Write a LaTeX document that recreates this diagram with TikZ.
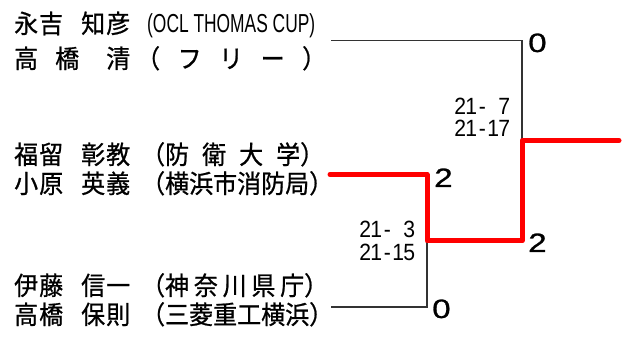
\documentclass[tikz,border=0pt]{standalone}
\usepackage{fontspec}
\usepackage{graphicx}
\setmainfont{Liberation Sans}
\newfontfamily\jp[FakeStretch=0.94,FakeBold=0.8]{Noto Sans CJK JP}
\newfontfamily\scorefont[FakeStretch=0.9]{Liberation Sans}
\newfontfamily\bigfont[FakeStretch=1.25,FakeBold=1]{Liberation Sans}
\newcommand\mc[1]{\makebox[11pt]{#1}}
\tikzset{
  nameline/.style={anchor=base west, inner sep=0pt, font=\jp\fontsize{25.5}{25.5}\selectfont},
  score/.style={anchor=base east, inner sep=0pt, font=\scorefont\fontsize{23.5}{23.5}\selectfont},
  result/.style={anchor=base west, inner sep=0pt, font=\bigfont\fontsize{26.5}{26.5}\selectfont},
  thinline/.style={draw=black!80, line width=1.3pt},
  winline/.style={draw=red, line width=5pt, line cap=round, line join=round}
}
\begin{document}
\begin{tikzpicture}[x=1pt,y=-1pt]
\useasboundingbox (0,0) rectangle (623,344);
% names
\node[nameline] (n1) at (14,33) {\makebox[49pt][s]{永\hss 吉}\hspace{18pt}\makebox[49pt][s]{知\hss 彦}\hspace{17pt}{\rmfamily\fontsize{26}{26}\selectfont\resizebox{168pt}{\height}{(OCL THOMAS CUP)}}};
\node[nameline] (n2) at (14,68) {\makebox[65pt][s]{高\hss 橋}\hspace{27pt}清\hspace{22pt}\makebox[158pt][s]{\kern-16pt（\hss フ\hss リ\hss ー\hss ）\kern-16pt}};
\node[nameline] (n3) at (14,164) {\makebox[49pt][s]{福\hss 留}\hspace{18pt}\makebox[49pt][s]{彰\hss 教}\hspace{27pt}\makebox[151pt][s]{\kern-16pt（防\hss 衛\hss 大\hss 学）\kern-16pt}};
\node[nameline] (n4) at (14,193) {\makebox[49pt][s]{小\hss 原}\hspace{18pt}\makebox[49pt][s]{英\hss 義}\hspace{27pt}\makebox[160pt][s]{\kern-16pt（横\hss 浜\hss 市\hss 消\hss 防\hss 局）\kern-16pt}};
\node[nameline] (n5) at (14,295) {\makebox[49pt][s]{伊\hss 藤}\hspace{18pt}\makebox[49pt][s]{信\hss 一}\hspace{27pt}\makebox[155pt][s]{\kern-16pt（神\hss 奈\hss 川\hss 県\hss 庁）\kern-16pt}};
\node[nameline] (n6) at (14,324) {\makebox[49pt][s]{高\hss 橋}\hspace{18pt}\makebox[49pt][s]{保\hss 則}\hspace{27pt}\makebox[160pt][s]{\kern-16pt（三\hss 菱\hss 重\hss 工\hss 横\hss 浜）\kern-16pt}};
% bracket points
\coordinate (a1) at (331,40.7);
\coordinate (a2) at (522,40.7);
\coordinate (m) at (522,140.5);
\coordinate (w) at (619,140.5);
\coordinate (b1) at (330,174.5);
\coordinate (b2) at (427,174.5);
\coordinate (b3) at (427,241);
\coordinate (b4) at (522,241);
\coordinate (c1) at (331,307);
\coordinate (c2) at (427,307);
% lines
\draw[thinline] (a1) -- (a2) -- (m);
\draw[thinline] (c1) -- (c2) -- (b3);
\draw[winline] (b1) -- (b2) -- (b3) -- (b4) -- (m) -- (w);
% results
\node[result] (r1) at (528,52) {0};
\node[result] (r2) at (434,187) {2};
\node[result] (r3) at (528,252) {2};
\node[result] (r4) at (432,318) {0};
% scores
\node[score] (s1) at (510,115) {\mc2\mc1\mc-\mc{ }\mc7};
\node[score] (s2) at (510,137) {\mc2\mc1\mc-\mc1\mc7};
\node[score] (s3) at (415,238) {\mc2\mc1\mc-\mc{ }\mc3};
\node[score] (s4) at (415,261) {\mc2\mc1\mc-\mc1\mc5};
\end{tikzpicture}
\end{document}
